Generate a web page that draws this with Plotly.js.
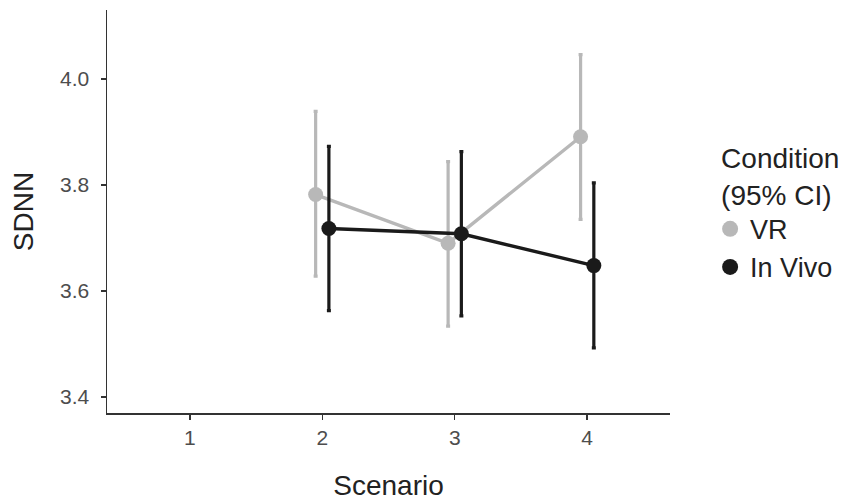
<!DOCTYPE html>
<html>
<head>
<meta charset="utf-8">
<script src="https://cdn.plot.ly/plotly-3.0.1.min.js"></script>
<style>html,body{margin:0;padding:0;background:#fff;}#chart{width:849px;height:501px;}</style>
</head>
<body>
<div id="chart"></div>
<script>
const scenarios = [2, 3, 4];
const dodge = 0.05;
const vrMean = [3.782, 3.690, 3.891];
const vrUpper = [3.939, 3.844, 4.046];
const vrLower = [3.628, 3.534, 3.735];
const vivoMean = [3.718, 3.708, 3.648];
const vivoUpper = [3.873, 3.863, 3.804];
const vivoLower = [3.563, 3.553, 3.493];
const xTicks = [1, 2, 3, 4];
const yTicks = [3.4, 3.6, 3.8, 4.0];

const vrColor = '#b8b8b8';
const vivoColor = '#1a1a1a';

function trace(name, mean, up, lo, off, color) {
  return {
    x: scenarios.map(s => s + off),
    y: mean,
    type: 'scatter',
    mode: 'lines+markers',
    name: name,
    showlegend: false,
    line: {color: color, width: 3.4},
    marker: {color: color, size: 15},
    error_y: {
      type: 'data', symmetric: false,
      array: up.map((u, i) => u - mean[i]),
      arrayminus: lo.map((l, i) => mean[i] - l),
      color: color, thickness: 3.2, width: 2
    }
  };
}
function legendTrace(name, color) {
  return {
    x: [null], y: [null], type: 'scatter', mode: 'markers', name: name,
    marker: {color: color, size: 16}
  };
}

const data = [
  trace('VR', vrMean, vrUpper, vrLower, -dodge, vrColor),
  trace('In Vivo', vivoMean, vivoUpper, vivoLower, dodge, vivoColor),
  legendTrace('VR', vrColor),
  legendTrace('In Vivo', vivoColor)
];

const layout = {
  width: 849, height: 501,
  margin: {l: 107, r: 179, t: 10, b: 88},
  paper_bgcolor: '#fff', plot_bgcolor: '#fff',
  font: {family: 'Liberation Sans, Arial, sans-serif', color: '#222'},
  xaxis: {
    range: [0.375, 4.625], tickvals: xTicks, ticktext: xTicks.map(String),
    showgrid: false, zeroline: false, showline: true, linecolor: '#333', linewidth: 1.5,
    ticks: 'outside', ticklen: 5, tickwidth: 1.5, tickcolor: '#333',
    tickfont: {size: 21, color: '#4d4d4d'}, automargin: false,
    title: {text: 'Scenario', font: {size: 28, color: '#222'}, standoff: 30}
  },
  yaxis: {
    range: [3.37, 4.13], tickvals: yTicks, ticktext: yTicks.map(v => v.toFixed(1)),
    showgrid: false, zeroline: false, showline: true, linecolor: '#333', linewidth: 1.5,
    ticks: 'outside', ticklen: 5, tickwidth: 1.5, tickcolor: '#333',
    tickfont: {size: 21, color: '#4d4d4d'}, ticklabelstandoff: 7, automargin: false,
    title: {text: 'SDNN', font: {size: 28, color: '#222'}, standoff: 18}
  },
  legend: {
    xref: 'container', x: 0.847, xanchor: 'left', y: 0.5, yanchor: 'middle',
    font: {size: 27, color: '#222'},
    title: {text: 'Condition<br>(95% CI)', font: {size: 28, color: '#222'}},
    itemwidth: 30, tracegroupgap: 0, indentation: -9
  }
};

Plotly.newPlot('chart', data, layout, {displayModeBar: false, staticPlot: true});
</script>
</body>
</html>
